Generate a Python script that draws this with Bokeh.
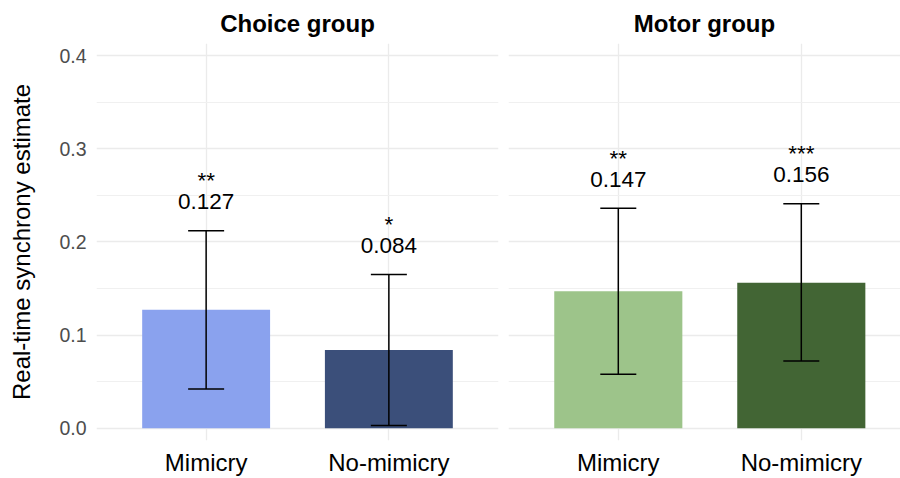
from bokeh.plotting import figure
from bokeh.layouts import row
from bokeh.models import (ColumnDataSource, Range1d, FixedTicker, Whisker, TeeHead)
from bokeh.core.properties import value
from bokeh.embed import file_html
from bokeh.resources import INLINE

# ---- data ----
conditions = ["Mimicry", "No-mimicry"]
panels = ["Choice group", "Motor group"]
choice_mean = [0.127, 0.084]
choice_lower = [0.042, 0.003]
choice_upper = [0.212, 0.165]
choice_stars = ["**", "*"]
motor_mean = [0.147, 0.156]
motor_lower = [0.058, 0.072]
motor_upper = [0.236, 0.241]
motor_stars = ["**", "***"]
choice_colors = ["#8AA2EE", "#3B4F7A"]
motor_colors = ["#9DC48A", "#426534"]
y_ticks = [0.0, 0.1, 0.2, 0.3, 0.4]
y_minor = [0.05, 0.15, 0.25, 0.35]

FONT = "Liberation Sans"
H = 478


def make_panel(title, means, lowers, uppers, stars, colors, width, x_end,
               show_y, border_left, border_right):
    xs = list(range(1, len(conditions) + 1))
    src = ColumnDataSource(dict(
        x=xs, mean=means, lower=lowers, upper=uppers, stars=stars,
        color=colors, label=[f"{m:.3f}" for m in means]))
    p = figure(width=width, height=H, output_backend="svg", toolbar_location=None,
               x_range=Range1d(0.4, x_end), y_range=Range1d(-0.0132, 0.4129),
               min_border_left=border_left, min_border_right=border_right,
               min_border_top=43, min_border_bottom=0, title=title)
    p.title.text_font = FONT
    p.title.text_font_size = "24px"
    p.title.text_font_style = "bold"
    p.title.text_color = "black"
    p.title.align = "center"
    p.title.standoff = 13
    p.outline_line_color = None
    p.background_fill_color = "white"
    p.border_fill_color = "white"

    p.vbar(x="x", top="mean", bottom=0, width=0.7, fill_color="color",
           line_color=None, source=src)
    w = Whisker(base="x", lower="lower", upper="upper", source=src,
                line_color="black", line_width=1.5, level="overlay",
                upper_head=TeeHead(size=36, line_color="black", line_width=1.5),
                lower_head=TeeHead(size=36, line_color="black", line_width=1.5))
    p.add_layout(w)
    p.text(x="x", y="upper", text="label", source=src, y_offset=-29,
           text_align="center", text_baseline="alphabetic",
           text_font=value(FONT), text_font_size="22.5px", text_color="black")
    p.text(x="x", y="upper", text="stars", source=src, y_offset=-50,
           text_align="center", text_baseline="alphabetic",
           text_font=value(FONT), text_font_size="22.5px", text_color="black")

    # axes
    xt = FixedTicker(ticks=xs)
    p.xaxis.ticker = xt
    p.xaxis.major_label_overrides = {x: c for x, c in zip(xs, conditions)}
    p.xaxis.major_label_text_font = FONT
    p.xaxis.major_label_text_font_size = "24px"
    p.xaxis.major_label_text_color = "black"
    p.xaxis.major_label_standoff = 8
    p.xaxis.axis_line_color = None
    p.xaxis.major_tick_line_color = None
    p.xaxis.minor_tick_line_color = None
    p.xaxis.major_tick_out = 0
    p.xaxis.major_tick_in = 0

    yt = FixedTicker(ticks=y_ticks, minor_ticks=y_minor)
    p.yaxis.ticker = yt
    p.yaxis.major_label_overrides = {t: f"{t:.1f}" for t in y_ticks}
    p.yaxis.major_label_text_font = FONT
    p.yaxis.major_label_text_font_size = "19.5px"
    p.yaxis.major_label_text_color = "#4D4D4D"
    p.yaxis.major_label_standoff = 10
    p.yaxis.axis_line_color = None
    p.yaxis.major_tick_line_color = None
    p.yaxis.minor_tick_line_color = None
    p.yaxis.major_tick_out = 0
    p.yaxis.major_tick_in = 0
    p.yaxis.minor_tick_out = 0
    if show_y:
        p.yaxis.axis_label = "Real-time synchrony estimate"
        p.yaxis.axis_label_text_font = FONT
        p.yaxis.axis_label_text_font_size = "24px"
        p.yaxis.axis_label_text_font_style = "normal"
        p.yaxis.axis_label_text_color = "black"
        p.yaxis.axis_label_standoff = 21
    else:
        p.yaxis.visible = False

    p.ygrid.ticker = yt
    p.ygrid.grid_line_color = "#EBEBEB"
    p.ygrid.grid_line_width = 1.3
    p.ygrid.minor_grid_line_color = "#F0F0F0"
    p.ygrid.minor_grid_line_width = 1.0
    p.xgrid.ticker = xt
    p.xgrid.grid_line_color = "#EBEBEB"
    p.xgrid.grid_line_width = 1.3
    return p


left = make_panel(panels[0], choice_mean, choice_lower, choice_upper, choice_stars,
                  choice_colors, width=503, x_end=2.6, show_y=True,
                  border_left=96, border_right=5)
right = make_panel(panels[1], motor_mean, motor_lower, motor_upper, motor_stars,
                   motor_colors, width=397, x_end=0.4 + 392 / 183.0, show_y=False,
                   border_left=5, border_right=0)

layout = row(left, right)
open("out.html", "w").write(file_html(layout, INLINE))
